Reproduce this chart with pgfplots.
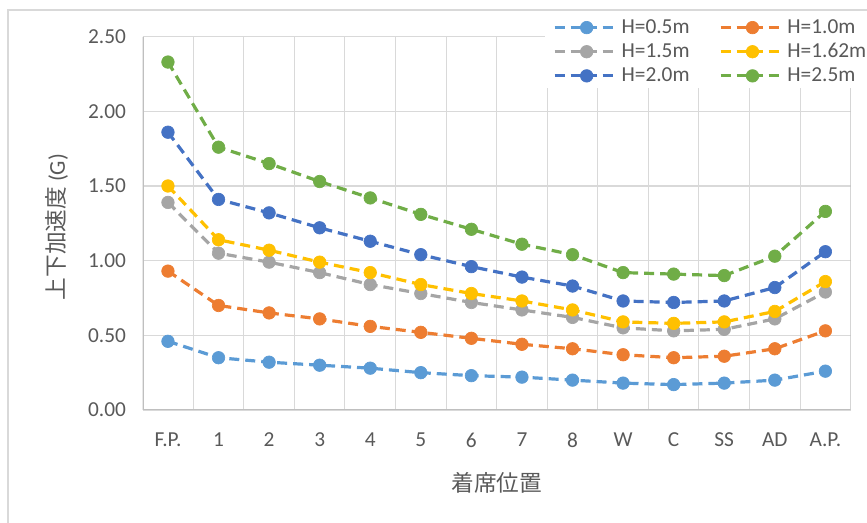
\documentclass[border=0pt]{standalone}
\usepackage{pgfplots}
\pgfplotsset{compat=1.18}
\usepackage{pgfplotstable}
\usepackage{fontspec}
\setmainfont{Carlito}
\newfontfamily\cjk{Noto Sans CJK JP}
\usetikzlibrary{plotmarks}

\definecolor{sLightBlue}{HTML}{5B9BD5}
\definecolor{sOrange}{HTML}{ED7D31}
\definecolor{sGray}{HTML}{A5A5A5}
\definecolor{sGold}{HTML}{FFC000}
\definecolor{sBlue}{HTML}{4472C4}
\definecolor{sGreen}{HTML}{70AD47}
\definecolor{gridc}{HTML}{D9D9D9}
\definecolor{axisc}{HTML}{BFBFBF}
\definecolor{textc}{HTML}{595959}

% seat position index (0 = F.P. ... 13 = A.P.) and vertical acceleration [G]
\pgfplotstableread{
x  h05  h10  h15  h162 h20  h25
0  0.46 0.93 1.39 1.50 1.86 2.33
1  0.35 0.70 1.05 1.14 1.41 1.76
2  0.32 0.65 0.99 1.07 1.32 1.65
3  0.30 0.61 0.92 0.99 1.22 1.53
4  0.28 0.56 0.84 0.92 1.13 1.42
5  0.25 0.52 0.78 0.84 1.04 1.31
6  0.23 0.48 0.72 0.78 0.96 1.21
7  0.22 0.44 0.67 0.73 0.89 1.11
8  0.20 0.41 0.62 0.67 0.83 1.04
9  0.18 0.37 0.55 0.59 0.73 0.92
10 0.17 0.35 0.53 0.58 0.72 0.91
11 0.18 0.36 0.54 0.59 0.73 0.90
12 0.20 0.41 0.61 0.66 0.82 1.03
13 0.26 0.53 0.79 0.86 1.06 1.33
}\accdata

\pgfplotsset{
  series/.style={
    color=#1, line width=2.4pt, dash pattern=on 7.5pt off 4.5pt,
    mark=*, mark size=4.7pt,
    mark options={solid, fill=#1, draw=#1, line width=0.5pt}
  }
}

\begin{document}
\begin{tikzpicture}
\useasboundingbox (0pt,0pt) rectangle (650.25pt,392.25pt);
% outer chart frame
\draw[gridc, line width=0.9pt] (6pt,0pt) -- (6pt,384.75pt) -- (650.25pt,384.75pt);
\begin{axis}[
  at={(107pt,84.75pt)}, anchor=south west,
  scale only axis,
  width=531pt, height=280pt,
  xmin=-0.5, xmax=13.5,
  ymin=0, ymax=2.5,
  xtick={0,...,13},
  xticklabels={F.P.,1,2,3,4,5,6,7,8,W,C,SS,AD,A.P.},
  minor xtick={0.5,1.5,...,12.5},
  ytick={0,0.5,...,2.5},
  xminorgrids, ymajorgrids,
  minor grid style={gridc, line width=0.8pt},
  major grid style={gridc, line width=0.8pt},
  major tick length=0pt, minor tick length=0pt,
  axis line style={draw=none},
  tick label style={font=\fontsize{16}{19}\selectfont, text=textc},
  xticklabel style={yshift=-13.5pt},
  yticklabel style={xshift=-9pt},
  /pgf/number format/.cd, fixed, fixed zerofill, precision=2, assume math mode=true,
  /pgfplots/.cd,
  xlabel={\cjk 着席位置},
  ylabel={\cjk 上下加速度 \rmfamily(G)},
  every axis x label/.style={at={(axis description cs:0.5,-0.195)}, anchor=center,
    font=\fontsize{17}{20}\selectfont, text=textc},
  every axis y label/.style={at={(axis description cs:-0.121,0.49)}, anchor=center,
    rotate=90, font=\fontsize{17}{20}\selectfont, text=textc},
  legend columns=2,
  legend cell align=left,
  legend style={
    at={(axis description cs:0.568,1.058)}, anchor=north west,
    draw=none, fill=white, inner xsep=6pt, inner ysep=1pt,
    font=\fontsize{16}{19}\selectfont, text=textc,
    /tikz/every even column/.append style={column sep=21pt},
    nodes={inner sep=1pt, text height=11.5pt, text depth=3pt},
    row sep=1.6pt,
  },
  legend image code/.code={
    \draw[mark repeat=2, mark phase=2, #1]
      plot coordinates {(0pt,0pt) (24pt,0pt) (48pt,0pt)};
  },
]
% plot frame: left, bottom and right edges
\draw[axisc, line width=1.5pt] (rel axis cs:0,1) -- (rel axis cs:0,0)
  -- (rel axis cs:1,0) -- (rel axis cs:1,1);
\addplot[series=sLightBlue] table[x=x, y=h05]  {\accdata};
\addlegendentry{H=0.5m}
\addplot[series=sOrange]    table[x=x, y=h10]  {\accdata};
\addlegendentry{H=1.0m}
\addplot[series=sGray]      table[x=x, y=h15]  {\accdata};
\addlegendentry{H=1.5m}
\addplot[series=sGold]      table[x=x, y=h162] {\accdata};
\addlegendentry{H=1.62m}
\addplot[series=sBlue]      table[x=x, y=h20]  {\accdata};
\addlegendentry{H=2.0m}
\addplot[series=sGreen]     table[x=x, y=h25]  {\accdata};
\addlegendentry{H=2.5m}
\end{axis}
\end{tikzpicture}
\end{document}
